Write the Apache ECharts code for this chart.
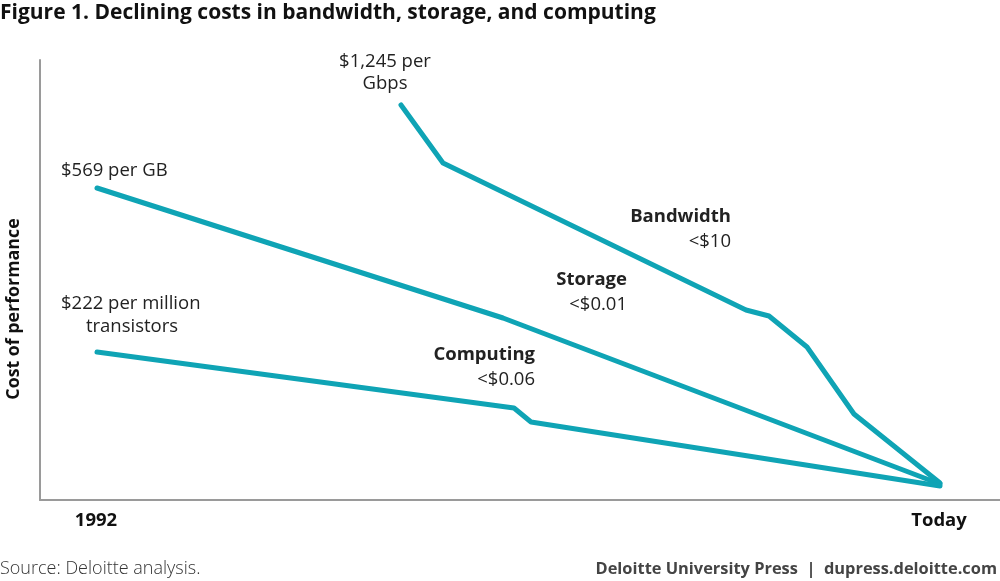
<!DOCTYPE html>
<html>
<head>
<meta charset="utf-8">
<script src="https://cdn.jsdelivr.net/npm/echarts@6/dist/echarts.min.js"></script>
<style>
  html, body { margin: 0; padding: 0; background: #fff; }
  #chart { width: 1000px; height: 581px; }
</style>
</head>
<body>
<div id="chart"></div>
<script>
// relative position along time (0 = axis origin) and relative cost (0 = axis floor)
var bandwidth = [[361, 395], [403, 337], [706, 190], [729, 184], [767, 153], [814, 86], [900, 17]];
var storage = [[57, 312], [463, 182], [900, 16]];
var computing = [[57, 148], [474, 92], [491, 78], [900, 14]];
var xLabels = ['1992', 'Today'];

var chartDom = document.getElementById('chart');
var myChart = echarts.init(chartDom);
var teal = '#0fa4b5';
var font = '"Open Sans", sans-serif';

function lineSeries(name, data) {
  return {
    name: name,
    type: 'line',
    data: data,
    showSymbol: false,
    lineStyle: { color: teal, width: 5, join: 'round', cap: 'round' },
    silent: true
  };
}

function txt(x, y, text, opts) {
  opts = opts || {};
  return {
    type: 'text',
    x: x,
    y: y,
    rotation: opts.rotation || 0,
    style: {
      text: text,
      font: (opts.weight || 'normal') + ' ' + (opts.size || 18.5) + 'px ' + font,
      fill: opts.color || '#222',
      align: opts.align || 'left',
      verticalAlign: 'middle'
    }
  };
}

var option = {
  animation: false,
  grid: { left: 40, right: 0, top: 60, bottom: 81 },
  xAxis: {
    type: 'value', min: 0, max: 960,
    axisLine: { show: true, lineStyle: { color: '#9a9a9a', width: 2 } },
    axisTick: { show: false }, axisLabel: { show: false }, splitLine: { show: false }
  },
  yAxis: {
    type: 'value', min: 0, max: 440,
    axisLine: { show: true, lineStyle: { color: '#9a9a9a', width: 2 } },
    axisTick: { show: false }, axisLabel: { show: false }, splitLine: { show: false }
  },
  series: [
    lineSeries('Bandwidth', bandwidth),
    lineSeries('Storage', storage),
    lineSeries('Computing', computing)
  ],
  graphic: [
    txt(0, 13, 'Figure 1. Declining costs in bandwidth, storage, and computing', { weight: 'bold', size: 21, color: '#111' }),
    txt(14, 309, 'Cost of performance', { weight: 'bold', size: 17.8, align: 'center', rotation: Math.PI / 2, color: '#111' }),
    txt(385, 62, '$1,245 per', { align: 'center' }),
    txt(385, 84, 'Gbps', { align: 'center' }),
    txt(61, 171, '$569 per GB'),
    txt(61, 304, '$222 per million'),
    txt(132, 327, 'transistors', { align: 'center' }),
    txt(731, 217, 'Bandwidth', { weight: 'bold', align: 'right' }),
    txt(731, 242, '<$10', { align: 'right' }),
    txt(627, 280, 'Storage', { weight: 'bold', align: 'right' }),
    txt(627, 305, '<$0.01', { align: 'right' }),
    txt(535, 355, 'Computing', { weight: 'bold', align: 'right' }),
    txt(535, 380, '<$0.06', { align: 'right' }),
    txt(96, 521, xLabels[0], { weight: 'bold', align: 'center', color: '#111' }),
    txt(939, 521, xLabels[1], { weight: 'bold', align: 'center', color: '#111' }),
    txt(0, 569, 'Source: Deloitte analysis.', { size: 18, color: '#333', weight: 300 }),
    txt(997, 569, 'Deloitte University Press  |  dupress.deloitte.com', { size: 16.4, weight: 'bold', align: 'right', color: '#444' })
  ]
};

option && myChart.setOption(option);
</script>
</body>
</html>
